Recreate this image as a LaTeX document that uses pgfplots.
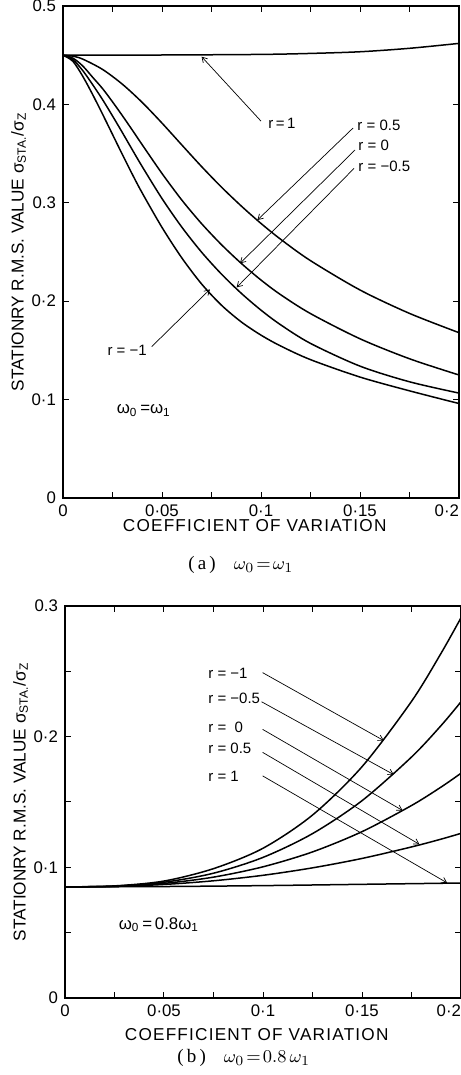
\documentclass[border=0pt]{standalone}
\usepackage{pgfplots}
\pgfplotsset{compat=1.18}
\usepackage{fontspec}
\setmainfont{Liberation Sans}
\newfontfamily\capfont{Liberation Serif}
\usetikzlibrary{arrows.meta}

\pgfplotsset{
  rmsaxis/.style={
    scale only axis, width=198pt,
    xmin=0, xmax=0.2, ymin=0,
    xtick={0,0.05,0.1,0.15,0.2},
    xticklabels={0,0·05,0·1,0·15,\llap{0·2}},
    minor xtick={0.025,0.075,0.125,0.175},
    tick align=inside, major tick length=3pt, minor tick length=3pt,
    axis line style={line width=0.8pt},
    every tick/.style={black, line width=0.5pt},
    tick label style={font=\fontsize{8.4}{9}\selectfont},
    xlabel={COEFFICIENT OF VARIATION},
    ylabel={STATIONRY R.M.S. VALUE σ\textsubscript{STA.}/σ\textsubscript{Z}},
    label style={font=\fontsize{8.6}{10}\selectfont},
    xlabel style={font=\fontsize{8.6}{10}\selectfont\addfontfeature{LetterSpace=7}},
    ylabel style={at={(axis description cs:-0.112,0.5)}, anchor=center},
  },
  rmscurve/.style={black, line width=0.75pt, smooth, no markers},
}
\tikzset{
  pointer/.style={black, line width=0.35pt, -{Straight Barb[length=2.5pt,width=3pt]}},
  note/.style={font=\fontsize{7.5}{8}\selectfont, anchor=west, inner sep=0pt},
}

\begin{document}
\begin{tikzpicture}
\useasboundingbox (0,0) rectangle (230pt,537.5pt);

% (a) omega_0 = omega_1
\begin{axis}[rmsaxis, height=246pt, ymax=0.5,
  at={(31.5pt,288.5pt)}, anchor=south west,
  ytick={0,0.1,0.2,0.3,0.4,0.5},
  yticklabels={0,0·1,0·2,0.3,0.4,0.5},
  xlabel style={at={(axis description cs:0.484,0)}, anchor=center, yshift=-14pt}]
% r = 1
\addplot[rmscurve] coordinates {
  (0,0.45) (0.05,0.4502) (0.1,0.4508) (0.125,0.4518) (0.15,0.4535)
  (0.175,0.457) (0.2,0.462) };
% r = 0.5
\addplot[rmscurve] coordinates {
  (0,0.45) (0.005,0.449) (0.01,0.446) (0.02,0.4355) (0.03,0.4205)
  (0.04,0.402) (0.05,0.381) (0.06,0.3588) (0.07,0.3368) (0.08,0.316)
  (0.09,0.2968) (0.1,0.279) (0.11,0.2628) (0.125,0.2412) (0.15,0.2114)
  (0.175,0.1876) (0.2,0.168) };
% r = 0
\addplot[rmscurve] coordinates {
  (0,0.45) (0.005,0.447) (0.01,0.439) (0.015,0.4275) (0.02,0.416)
  (0.025,0.4026) (0.03,0.3885) (0.035,0.3739) (0.04,0.359) (0.05,0.3298)
  (0.06,0.3028) (0.07,0.2788) (0.08,0.2575) (0.09,0.2385) (0.1,0.2215)
  (0.11,0.2065) (0.125,0.1874) (0.15,0.1618) (0.175,0.1415) (0.2,0.125) };
% r = -0.5
\addplot[rmscurve] coordinates {
  (0,0.45) (0.005,0.4455) (0.01,0.4343) (0.015,0.42) (0.02,0.4048)
  (0.025,0.3883) (0.03,0.3713) (0.035,0.3539) (0.04,0.3368) (0.05,0.3043)
  (0.06,0.2753) (0.07,0.2498) (0.08,0.2276) (0.09,0.2081) (0.1,0.1909)
  (0.11,0.1759) (0.125,0.1571) (0.15,0.134) (0.175,0.1181) (0.2,0.1066) };
% r = -1
\addplot[rmscurve] coordinates {
  (0,0.45) (0.005,0.4438) (0.01,0.4285) (0.015,0.4099) (0.02,0.390)
  (0.025,0.3695) (0.03,0.349) (0.035,0.329) (0.04,0.310) (0.05,0.275)
  (0.06,0.244) (0.07,0.2175) (0.08,0.196) (0.09,0.179) (0.1,0.1655)
  (0.11,0.1544) (0.125,0.1406) (0.15,0.1229) (0.175,0.1089) (0.2,0.096) };

\draw[pointer] (axis cs:0.1,0.383) -- (axis cs:0.070,0.4485);
\node[note] at (axis cs:0.1035,0.381) {r\,=\,1};
\draw[pointer] (axis cs:0.1465,0.376) -- (axis cs:0.0982,0.2825);
\node[note] at (axis cs:0.1485,0.379) {r = 0.5};
\draw[pointer] (axis cs:0.1475,0.3537) -- (axis cs:0.0894,0.2385);
\node[note] at (axis cs:0.149,0.358) {r = 0};
\draw[pointer] (axis cs:0.147,0.335) -- (axis cs:0.0877,0.214);
\node[note] at (axis cs:0.149,0.337) {r = −0.5};
\draw[pointer] (axis cs:0.0448,0.1538) -- (axis cs:0.0742,0.212);
\node[note, anchor=east] at (axis cs:0.0425,0.150) {r = −1};
\node[note, font=\fontsize{8.4}{9}\selectfont] at (axis cs:0.027,0.089)
  {ω\textsubscript{0}\,=ω\textsubscript{1}};
\end{axis}

% (b) omega_0 = 0.8 omega_1
\begin{axis}[rmsaxis, height=196pt, ymax=0.3,
  at={(32.5pt,38.5pt)}, anchor=south west,
  ytick={0,0.1,0.2,0.3},
  yticklabels={0,0·1,0·2,0.3},
  minor ytick={0.05,0.15,0.25},
  xlabel style={at={(axis description cs:0.484,0)}, anchor=center, yshift=-18.5pt}]
% r = 1
\addplot[rmscurve] coordinates {
  (0,0.085) (0.05,0.0853) (0.1,0.086) (0.15,0.087) (0.2,0.088) };
% r = 0.5
\addplot[rmscurve] coordinates {
  (0,0.085) (0.025,0.0854) (0.05,0.0869) (0.075,0.0897) (0.1,0.0939)
  (0.125,0.0996) (0.15,0.1068) (0.175,0.1156) (0.19,0.1216) (0.2,0.126) };
% r = 0
\addplot[rmscurve] coordinates {
  (0,0.085) (0.025,0.0855) (0.05,0.0877) (0.075,0.0925) (0.1,0.1004)
  (0.125,0.1118) (0.15,0.1273) (0.175,0.1473) (0.19,0.1615) (0.2,0.172) };
% r = -0.5
\addplot[rmscurve] coordinates {
  (0,0.085) (0.025,0.0856) (0.05,0.0886) (0.075,0.0955) (0.1,0.1076)
  (0.125,0.1258) (0.15,0.151) (0.175,0.1844) (0.19,0.2086) (0.2,0.2267) };
% r = -1
\addplot[rmscurve] coordinates {
  (0,0.085) (0.025,0.0858) (0.05,0.0895) (0.075,0.099) (0.1,0.1146)
  (0.125,0.140) (0.15,0.177) (0.175,0.227) (0.19,0.264) (0.2,0.291) };

\draw[pointer] (axis cs:0.0998,0.249) -- (axis cs:0.161,0.197);
\node[note] at (axis cs:0.0722,0.2484) {r = −1};
\draw[pointer] (axis cs:0.0993,0.2267) -- (axis cs:0.166,0.171);
\node[note] at (axis cs:0.0722,0.2293) {r = −0.5};
\draw[pointer] (axis cs:0.0998,0.2056) -- (axis cs:0.1705,0.1435);
\node[note] at (axis cs:0.0722,0.2071) {r =\ \ 0};
\draw[pointer] (axis cs:0.0998,0.188) -- (axis cs:0.179,0.1176);
\node[note] at (axis cs:0.0722,0.191) {r = 0.5};
\draw[pointer] (axis cs:0.0998,0.170) -- (axis cs:0.193,0.0881);
\node[note] at (axis cs:0.0722,0.1693) {r = 1};
\node[note, font=\fontsize{8.4}{9}\selectfont] at (axis cs:0.027,0.056)
  {ω\textsubscript{0}\,=\,0.8ω\textsubscript{1}};
\end{axis}

\node[anchor=west, inner sep=0pt, font=\capfont\fontsize{9.5}{10}\selectfont]
  at (94pt,255pt) {(\,a\,)\hspace{9pt}$\omega_0\!=\!\omega_1$};
\node[anchor=west, inner sep=0pt, font=\capfont\fontsize{9.5}{10}\selectfont]
  at (88.5pt,8.5pt) {(\,b\,)\hspace{9pt}$\omega_0\!=\!0.8\,\omega_1$};
\end{tikzpicture}
\end{document}
